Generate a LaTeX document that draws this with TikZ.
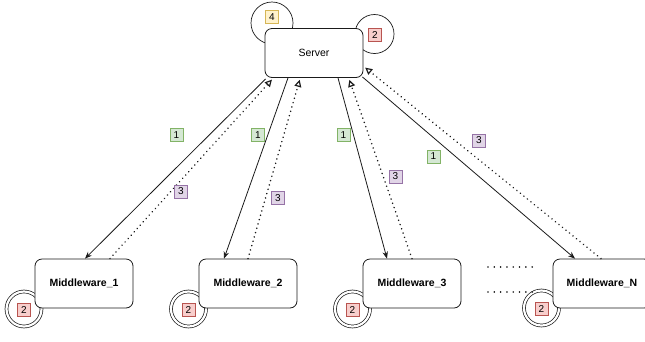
\documentclass[tikz,border=0pt]{standalone}
\usepackage{fontspec}
\setmainfont{Liberation Sans}
\usetikzlibrary{arrows.meta,calc}
\definecolor{gfill}{HTML}{D5E8D4}\definecolor{gdraw}{HTML}{82B366}
\definecolor{pfill}{HTML}{E1D5E7}\definecolor{pdraw}{HTML}{9673A6}
\definecolor{rfill}{HTML}{F8CECC}\definecolor{rdraw}{HTML}{B85450}
\definecolor{yfill}{HTML}{FFF2CC}\definecolor{ydraw}{HTML}{D6B656}
\definecolor{ln}{HTML}{1A1A1A}
\begin{document}
\begin{tikzpicture}[x=1pt,y=-1pt,
  box/.style={draw=ln,line width=0.8pt,fill=white,rounded corners=7pt,minimum width=98pt,minimum height=49pt,inner sep=0pt},
  mw/.style={box,font=\fontsize{10.5}{12}\selectfont\bfseries},
  tag/.style={draw,line width=0.7pt,minimum size=13pt,inner sep=0pt,font=\fontsize{10}{12}\selectfont},
  gtag/.style={tag,fill=gfill,draw=gdraw},
  ptag/.style={tag,fill=pfill,draw=pdraw},
  rtag/.style={tag,fill=rfill,draw=rdraw},
  ytag/.style={tag,fill=yfill,draw=ydraw},
  loop/.style={draw=ln,line width=0.7pt,circle},
  dloop/.style={draw=ln,line width=0.7pt,double=white,double distance=2.2pt,circle,minimum size=35pt,inner sep=0pt},
  sarr/.style={draw=ln,line width=0.8pt,-{Stealth[length=7pt,width=5.5pt]}},
  darr/.style={draw=ln,line width=1.7pt,dash pattern=on 0.01pt off 4.5pt,line cap=round,-{Triangle[open,length=7pt,width=7pt,line width=1.2pt,sep=1pt]}},
  dotline/.style={draw=ln,line width=1.7pt,dash pattern=on 0.01pt off 6.3pt,line cap=round}
]
\useasboundingbox (0,0) rectangle (645,341);
% loops behind boxes
\node[loop,minimum size=42pt] (l4) at (272,23) {};
\node[loop,minimum size=39pt] (l2s) at (374.5,34) {};
\node[dloop] (c1) at (24,309) {};
\node[dloop] (c2) at (188.5,309) {};
\node[dloop] (c3) at (352.5,309) {};
\node[dloop] (c4) at (541.5,308) {};
% boxes
\node[box,font=\fontsize{10.5}{12}\selectfont] (srv) at (314,53) {Server};
\node[mw] (m1) at (84,283.5) {Middleware\_1};
\node[mw] (m2) at (248,283.5) {Middleware\_2};
\node[mw] (m3) at (412,283.5) {Middleware\_3};
\node[mw] (m4) at (602,283.5) {Middleware\_N};
% tags on loops
\node[ytag] (t4) at (272,17) {4};
\node[rtag] (t2s) at (375,35) {2};
\node[rtag] (r1) at (24,310) {2};
\node[rtag] (r2) at (188.5,310) {2};
\node[rtag] (r3) at (352.5,310) {2};
\node[rtag] (r4) at (541.5,309) {2};
% connectors
\draw[sarr] ([xshift=1pt,yshift=-1pt]srv.south west) -- ([xshift=1pt]m1.north);
\draw[darr] ([xshift=26pt]m1.north) -- ([xshift=8pt,yshift=-1pt]srv.south west);
\draw[sarr] ([xshift=-26pt]srv.south) -- ([xshift=-24pt]m2.north);
\draw[darr] (m2.north) -- ([xshift=-14pt,yshift=-1pt]srv.south);
\draw[sarr] ([xshift=24pt]srv.south) -- ([xshift=-25pt]m3.north);
\draw[darr] (m3.north) -- ([xshift=35pt,yshift=-1pt]srv.south);
\draw[sarr] ([xshift=-1pt,yshift=1pt]srv.south east) -- ([xshift=-27pt]m4.north);
\draw[darr] ([xshift=-1pt]m4.north) -- ([xshift=1pt,yshift=-14pt]srv.east);
% tags on connectors
\node[gtag] at (176.5,135) {1};
\node[gtag] at (258,135) {1};
\node[gtag] at (343.5,135) {1};
\node[gtag] at (433.5,156.5) {1};
\node[ptag] at (181,191.5) {3};
\node[ptag] at (278,198) {3};
\node[ptag] at (395.5,176.5) {3};
\node[ptag] at (479,140.5) {3};
% ellipsis dots
\coordinate (e1a) at (488,267); \coordinate (e1b) at (536,267);
\coordinate (e2a) at (488,292); \coordinate (e2b) at (536,292);
\draw[dotline] (e1a) -- (e1b);
\draw[dotline] (e2a) -- (e2b);
\end{tikzpicture}
\end{document}
